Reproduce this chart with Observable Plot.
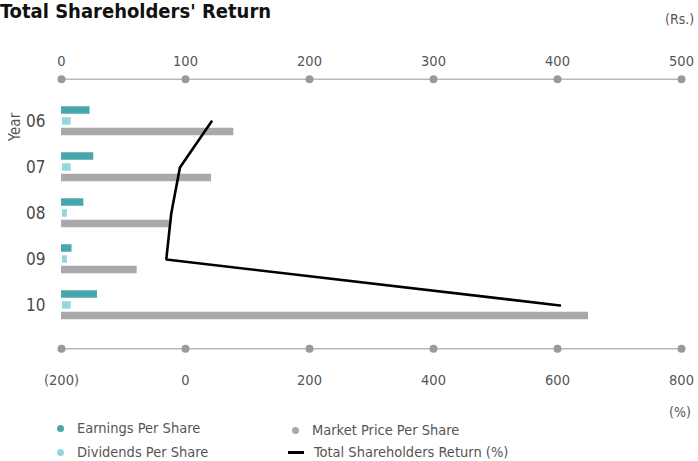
<!DOCTYPE html>
<html>
<head>
<meta charset="utf-8">
<script src="https://cdn.jsdelivr.net/npm/d3@7"></script>
<script src="https://cdn.jsdelivr.net/npm/@observablehq/plot@0.6"></script>
<style>
  html, body { margin: 0; padding: 0; background: #fff; }
  body { width: 698px; height: 461px; position: relative; overflow: hidden;
         font-family: "DejaVu Sans Condensed", "Liberation Sans Narrow", "Open Sans", sans-serif; color: #555; }
  #chart { position: absolute; left: 0; top: 0; }
  .abs { position: absolute; white-space: nowrap; line-height: 1; }
  #title { left: 0; top: 1px; font-size: 20px; font-weight: bold; color: #111; }
  #ylabel { left: 15px; top: 127px; font-size: 15px; color: #555;
            transform: translate(-50%, -50%) rotate(-90deg); }
  .unit { font-size: 14px; color: #555; }
  .leg { font-size: 14.5px; color: #555; display: flex; align-items: center; }
  .dot { width: 7px; height: 7px; border-radius: 50%; display: inline-block; }
  .swatch { width: 16px; height: 3px; background: #000; display: inline-block; }
</style>
</head>
<body>
<div id="chart"></div>
<div id="title" class="abs">Total Shareholders' Return</div>
<div id="ylabel" class="abs">Year</div>
<div class="abs unit" style="left:665px; top:12px;">(Rs.)</div>
<div class="abs unit" style="left:669px; top:405px;">(%)</div>
<div id="legend"></div>
<script>
// Fiscal years and per-share figures (Rs.)
const years = ["06", "07", "08", "09", "10"];
const earningsPerShare = [23, 26, 18, 8.5, 29];
const dividendsPerShare = [7, 7, 4, 4, 7];
const marketPricePerShare = [139, 121, 87, 61, 425];
// Total shareholders' return (%)
const totalReturn = [42, -9, -23, -31, 604];

// Axis ticks: Rs. on top, % on the bottom
const rsTicks = [0, 100, 200, 300, 400, 500];
const pctTicks = [-200, 0, 200, 400, 600, 800];

const colors = {
  eps: "#48a7ad",
  dps: "#96d6dc",
  mps: "#a9a9ad",
  tsr: "#000000",
  axis: "#b9b9bb",
  tickDot: "#9a9a9e"
};

const rows = years.map((year, i) => ({
  year,
  eps: earningsPerShare[i],
  dps: dividendsPerShare[i],
  mps: marketPricePerShare[i],
  tsr: totalReturn[i]
}));

// The % axis shares the horizontal extent of the Rs. axis:
// -200% .. 800% lines up with Rs. 0 .. 500.
const pctToRs = p => (p + 200) / 2;
const fmtPct = p => (p < 0 ? `(${-p})` : `${p}`);

const W = 698, H = 461;
const marginTop = 96.75, marginBottom = 131.75;
const bandStep = (H - marginTop - marginBottom) / years.length;
const barH = 8;
const inset = (bandStep - barH) / 2;
const fontFamily = getComputedStyle(document.body).fontFamily;

const chart = Plot.plot({
  width: W,
  height: H,
  marginLeft: 61,
  marginRight: 17,
  marginTop,
  marginBottom,
  style: { fontFamily, background: "transparent", overflow: "visible" },
  x: { domain: [0, 500], axis: null },
  y: { domain: years, padding: 0, axis: null },
  marks: [
    // top (Rs.) axis
    Plot.frame({ anchor: "top", dy: -18, stroke: colors.axis, strokeWidth: 1.5 }),
    Plot.dot(rsTicks, { x: d => d, frameAnchor: "top", dy: -18, r: 4, fill: colors.tickDot }),
    Plot.text(rsTicks, { x: d => d, text: d => `${d}`, frameAnchor: "top", dy: -42, fontSize: 14.5, fill: "#555" }),
    // bottom (%) axis
    Plot.frame({ anchor: "bottom", dy: 19, stroke: colors.axis, strokeWidth: 1.5 }),
    Plot.dot(pctTicks, { x: pctToRs, frameAnchor: "bottom", dy: 19, r: 4, fill: colors.tickDot }),
    Plot.text(pctTicks, { x: pctToRs, text: fmtPct, frameAnchor: "bottom", dy: 55, fontSize: 14.5, fill: "#555" }),
    // year labels
    Plot.text(rows, { y: "year", text: "year", frameAnchor: "left", dx: -16, textAnchor: "end", fontSize: 17, fill: "#4a4a4a" }),
    // per-share bars
    Plot.barX(rows, { x: "eps", y: "year", dy: -11, insetTop: inset, insetBottom: inset, fill: colors.eps }),
    Plot.barX(rows, { x: "dps", y: "year", dy: 0, dx: 1, insetTop: inset, insetBottom: inset, fill: colors.dps }),
    Plot.barX(rows, { x: "mps", y: "year", dy: 10.5, insetTop: inset, insetBottom: inset, fill: colors.mps }),
    // total shareholders' return
    Plot.line(rows, { x: d => pctToRs(d.tsr), y: "year", stroke: colors.tsr, strokeWidth: 2.6, strokeLinejoin: "miter" })
  ]
});
document.getElementById("chart").append(chart);

// Legend
const legendItems = [
  { label: "Earnings Per Share", kind: "dot", color: colors.eps, left: 57, top: 421 },
  { label: "Dividends Per Share", kind: "dot", color: colors.dps, left: 57, top: 445 },
  { label: "Market Price Per Share", kind: "dot", color: colors.mps, left: 292, top: 423 },
  { label: "Total Shareholders Return (%)", kind: "line", color: colors.tsr, left: 288, top: 445 }
];
const legend = document.getElementById("legend");
for (const item of legendItems) {
  const el = document.createElement("div");
  el.className = "abs leg";
  el.style.left = item.left + "px";
  el.style.top = item.top + "px";
  const sw = document.createElement("span");
  if (item.kind === "dot") {
    sw.className = "dot";
    sw.style.background = item.color;
    sw.style.marginRight = "13px";
  } else {
    sw.className = "swatch";
    sw.style.background = item.color;
    sw.style.marginRight = "10px";
  }
  const tx = document.createElement("span");
  tx.textContent = item.label;
  el.append(sw, tx);
  legend.append(el);
}
</script>
</body>
</html>
